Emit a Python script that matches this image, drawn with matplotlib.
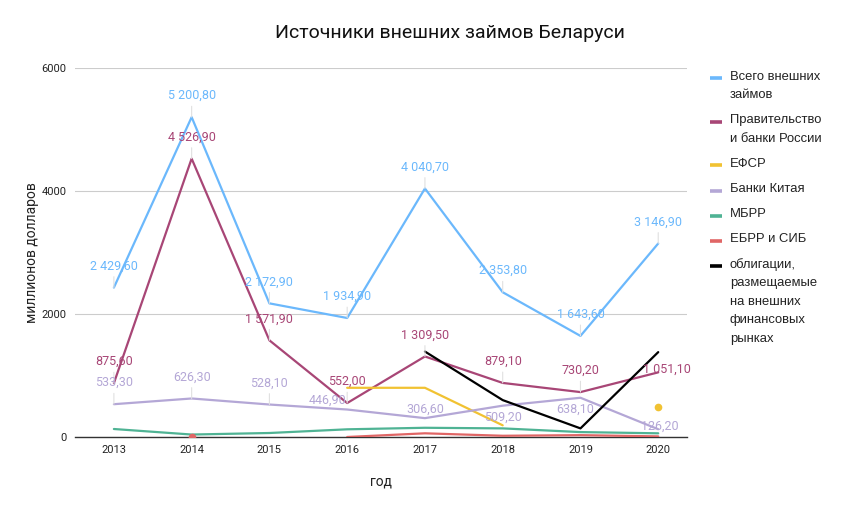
import matplotlib
matplotlib.use("Agg")
import matplotlib.pyplot as plt
from matplotlib.lines import Line2D
import numpy as np

plt.rcParams["font.family"] = ["Roboto", "DejaVu Sans"]

# ── данные ─────────────────────────────────────────
years = [2013, 2014, 2015, 2016, 2017, 2018, 2019, 2020]
nan = np.nan

total = [2429.6, 5200.8, 2172.9, 1934.9, 4040.7, 2353.8, 1643.6, 3146.9]
russia = [875.6, 4526.9, 1571.9, 552.0, 1309.5, 879.1, 730.2, 1051.1]
efsr = [nan, nan, nan, 800, 800, 190, nan, 490]
china = [533.3, 626.3, 528.1, 446.9, 306.6, 509.2, 638.1, 126.2]
ibrd = [130, 40, 65, 125, 150, 140, 80, 60]
ebrd = [nan, 5, nan, 0, 60, 20, 30, 10]
bonds = [nan, nan, nan, nan, 1390, 600, 140, 1380]

series = [
    ("Всего внешних\nзаймов", total, "#6bb8fc", "#6bb8fc"),
    ("Правительство\nи банки России", russia, "#a84676", "#a84676"),
    ("ЕФСР", efsr, "#f1c232", None),
    ("Банки Китая", china, "#b4a7d6", "#b4a7d6"),
    ("МБРР", ibrd, "#4fb394", None),
    ("ЕБРР и СИБ", ebrd, "#e06666", None),
    ("облигации,\nразмещаемые\nна внешних\nфинансовых\nрынках", bonds, "#000000", None),
]

# подписи, которые Sheets сдвигает, чтобы не налезали (dx, dy в пунктах)
label_shift = {
    (1, 2020): (6, 2),
    (3, 2016): (-14, 7),
    (3, 2017): (0, 6.5),
    (3, 2018): (0, -8),
    (3, 2019): (-3.5, -8),
    (3, 2020): (1, 2),
}


def fmt_ru(v):
    s = f"{v:,.2f}"
    return s.replace(",", " ").replace(".", ",")


W, H = 844, 511
fig = plt.figure(figsize=(W / 100, H / 100), dpi=100, facecolor="white")
ax = fig.add_axes([75 / W, 1 - 437 / H, 612 / W, 369 / H])

for k, (name, vals, color, lbl_color) in enumerate(series):
    y = np.array(vals, dtype=float)
    ax.plot(years, y, color=color, linewidth=1.6, solid_capstyle="round",
            zorder=3)
    # одиночные точки
    for i, v in enumerate(y):
        if np.isnan(v):
            continue
        left = i == 0 or np.isnan(y[i - 1])
        right = i == len(y) - 1 or np.isnan(y[i + 1])
        if left and right:
            ax.plot(years[i], v, "o", color=color, markersize=4.5, zorder=3)
    if lbl_color:
        for yr, v in zip(years, y):
            if (k, yr) in label_shift:
                dx, dy = label_shift[(k, yr)]
                ax.annotate(fmt_ru(v), (yr, v), xytext=(dx, dy),
                            textcoords="offset points", ha="center",
                            va="center", fontsize=9, color=lbl_color, zorder=4)
            else:
                ax.annotate(fmt_ru(v), (yr, v), xytext=(0, 15.5),
                            textcoords="offset points", ha="center",
                            va="center", fontsize=9, color=lbl_color, zorder=4,
                            arrowprops=dict(arrowstyle="-", color="#e0e0e0",
                                            lw=0.8, shrinkA=1, shrinkB=0))

ax.set_xlim(2012.5, 2020.37)
ax.set_ylim(0, 6000)
ax.set_xticks(years)
ax.set_yticks([0, 2000, 4000, 6000])
ax.tick_params(axis="both", length=0, labelsize=8, colors="#222222")
ax.tick_params(axis="x", pad=6)
ax.tick_params(axis="y", pad=6)
ax.grid(axis="y", color="#cccccc", linewidth=0.8)
ax.set_axisbelow(True)
for s in ["top", "right", "left"]:
    ax.spines[s].set_visible(False)
ax.spines["bottom"].set_color("#333333")
ax.spines["bottom"].set_linewidth(1)
ax.spines["bottom"].set_zorder(2)

ax.set_ylabel("миллионов долларов", fontsize=10, color="#222222", labelpad=2)
ax.set_xlabel("год", fontsize=10, color="#222222", labelpad=14)

fig.text(450 / W, 1 - 33 / H, "Источники внешних займов Беларуси", ha="center",
         va="center", fontsize=14, color="#111111")

# ── легенда (маркер у первой строки, как в Sheets) ──
ly = 76.5
for name, vals, color, _ in series:
    fig.add_artist(Line2D([710 / W, 722 / W], [1 - (ly + 1.5) / H] * 2,
                          color=color, linewidth=2.6, solid_capstyle="butt"))
    lines = name.split("\n")
    for j, ln in enumerate(lines):
        fig.text(730 / W, 1 - (ly + 18.5 * j) / H, ln, ha="left", va="center",
                 fontsize=9.4, color="#222222",
                 family=["Liberation Sans", "DejaVu Sans"])
    ly += 18.5 * (len(lines) - 1) + 25.2

fig.savefig("out.png", dpi=100, facecolor="white")
